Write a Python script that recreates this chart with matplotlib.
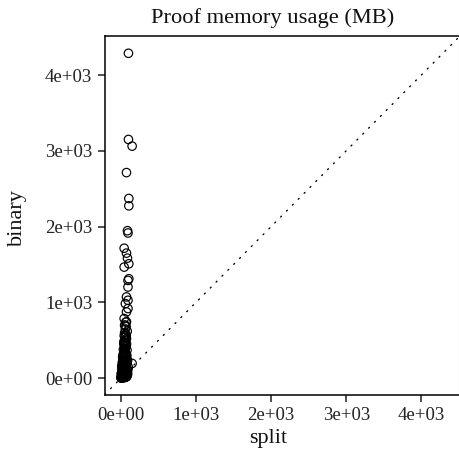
import matplotlib
matplotlib.use("Agg")
import matplotlib.pyplot as plt

# sparse upper points
split_hi = [101, 101, 150, 75, 106, 106, 88, 95, 44, 75, 88, 106, 44, 106, 95, 95, 75, 95, 60, 95, 75, 44, 75, 50, 150]
binary_hi = [4287, 3150, 3062, 2713, 2371, 2274, 1946, 1916, 1715, 1650, 1584, 1509, 1466, 1312, 1290, 1203,
             1072, 1028, 984, 919, 875, 787, 744, 700, 195]

# dense cluster near the origin
split_lo = [2, 5, 8, 12, 15, 20, 25, 30, 35, 40, 48, 55, 62, 70,
            4, 10, 18, 26, 34, 42, 50, 58, 66, 74, 82, 90,
            8, 15, 24, 33, 41, 50, 60, 70, 80, 92,
            14, 22, 30, 40, 50, 60, 72, 85, 100,
            20, 30, 40, 52, 65, 78, 90,
            30, 38, 48, 58, 70, 82,
            40, 48, 55, 65, 75, 85, 60, 50, 70, 45,
            6, 18, 28, 38, 52, 64, 78, 88,
            12, 26, 36, 46, 56, 68, 84,
            24, 34, 44, 56, 68, 80,
            34, 44, 54, 64, 76,
            42, 52, 62, 72, 58, 66]
binary_lo = [3, 5, 2, 8, 4, 10, 6, 12, 7, 15, 9, 11, 14, 18,
             25, 30, 40, 22, 35, 48, 28, 55, 38, 45, 32, 50,
             65, 80, 95, 70, 110, 85, 100, 75, 90, 105,
             130, 150, 175, 140, 190, 160, 180, 125, 145,
             210, 240, 270, 225, 290, 255, 235,
             310, 350, 390, 330, 420, 370,
             460, 500, 540, 580, 520, 620, 650, 600, 680, 560,
             60, 115, 120, 160, 60, 130, 20, 70,
             165, 200, 215, 250, 195, 280, 200,
             280, 300, 330, 360, 320, 300,
             380, 440, 470, 410, 450,
             480, 430, 500, 560, 700, 740]

split = split_hi + split_lo
binary = binary_hi + binary_lo

xticks = [0, 1000, 2000, 3000, 4000]
yticks = [0, 1000, 2000, 3000, 4000]
tick_labels = ["0e+00", "1e+03", "2e+03", "3e+03", "4e+03"]

plt.rcParams['font.family'] = ['Liberation Serif', 'DejaVu Serif']

W, H = 459, 454
fig = plt.figure(figsize=(W / 100, H / 100), dpi=100)
left, right, top, bottom = 104.7, 458.5, 36.0, 394.5
ax = fig.add_axes([left / W, (H - bottom) / H, (right - left) / W, (bottom - top) / H])

ax.axline((0, 0), slope=1, color='black', linewidth=1.0, dashes=(0.8, 5.2), dash_capstyle='round')
ax.scatter(split, binary, s=37, facecolors='none', edgecolors='black', linewidths=0.85, zorder=3)

ax.set_xlim(-215, 4495)
ax.set_ylim(-215, 4515)
ax.set_xticks(xticks)
ax.set_xticklabels(tick_labels)
ax.set_yticks(yticks)
ax.set_yticklabels(tick_labels)
ax.tick_params(axis='both', length=5, width=1.1, labelsize=13.5, color='#222222', labelcolor='#222222')
ax.tick_params(axis='x', pad=4)
ax.tick_params(axis='y', pad=4)

for s in ['left', 'bottom', 'top']:
    ax.spines[s].set_linewidth(1.1)
    ax.spines[s].set_color('black')
ax.spines['right'].set_linewidth(0.8)
ax.spines['right'].set_color('#dddddd')

fig.text(272.5 / W, 1 - 23.5 / H, "Proof memory usage (MB)", ha='center', va='baseline', fontsize=16.2, color='#111111')
fig.text(268 / W, 1 - 443 / H, "split", ha='center', va='baseline', fontsize=16, color='#111111')
fig.text(17 / W, 1 - 217.5 / H, "binary", ha='center', va='center', rotation=90, fontsize=16, color='#111111')

fig.savefig("out.png", dpi=100)
